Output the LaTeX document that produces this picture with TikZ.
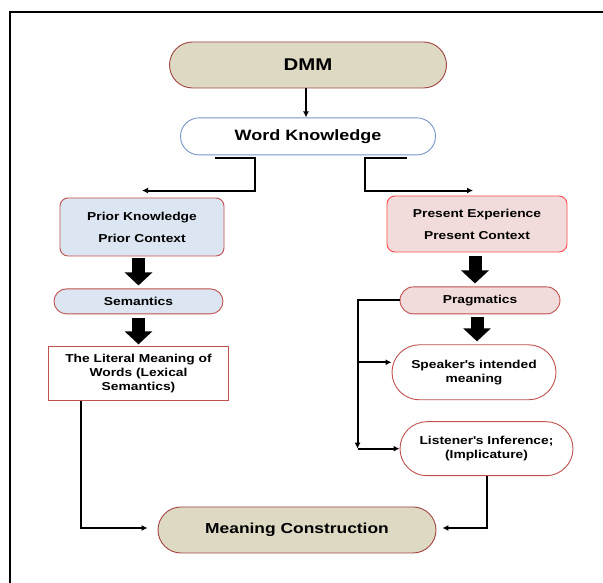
\documentclass[tikz,border=0pt]{standalone}
\usepackage{fontspec}
\setmainfont{Liberation Sans}[FakeStretch=1.2]
\usetikzlibrary{positioning,calc,shapes.misc,arrows.meta}
\definecolor{tanfill}{RGB}{221,217,195}
\definecolor{bluefill}{RGB}{220,230,242}
\definecolor{pinkfill}{RGB}{242,220,219}
\definecolor{redline}{RGB}{192,80,77}
\definecolor{blueline}{RGB}{120,150,200}
\newcommand{\midfont}{\bfseries\fontsize{11.5}{14}\selectfont}
\tikzstyle{link} = [
    -{Latex[length=6pt,width=6pt]},
    % draw=black,
    line width=2pt
]

\begin{document}
\begin{tikzpicture}[
        x=1pt, y=1pt,
        pill/.style n args={4}{
            rounded rectangle, draw=#1, fill=#2, line width=0.9pt,
            minimum width=#3, minimum height=#4,
            align=center, inner sep=2pt, font=\midfont
        },
        softbox/.style n args={4}{
            rectangle, rounded corners=8pt, draw=#1, fill=#2, line width=0.9pt,
            minimum width=#3, minimum height=#4,
            align=center, inner sep=2pt, font=\midfont
        },
        fatarrow/.style = {
            line width=13pt, -{Triangle[width=27pt,length=13pt]}
        }
    ]
        \useasboundingbox[fill=white] (0,0) rectangle (603,583);
        \draw[line width=2.5pt, line join=miter] (10,-5) -- (10,571) -- (610,571);

        \node[pill={redline!85!black}{tanfill}{281pt}{46pt}, font=\bfseries\fontsize{17}{20}\selectfont] (dmm) at (308,518) {DMM};
        \node[pill={blueline}{white}{259pt}{37pt}, font=\bfseries\fontsize{15}{18}\selectfont] (wk) [below=29pt of dmm] {Word Knowledge};

        \node[softbox={redline}{bluefill}{164pt}{58pt}] (prior) at (142,356) {Prior Knowledge\\[8pt] Prior Context};
        \node[pill={redline}{bluefill}{173pt}{25pt}] (sem) [below=32pt of prior, xshift=-3.5pt] {Semantics};
        \node[softbox={redline}{white}{180pt}{54pt}, rounded corners=0pt] (literal) [below=32pt of sem] {The Literal Meaning of\\ Words (Lexical\\ Semantics)};

        \node[softbox={red!70}{pinkfill}{180pt}{56pt}] (present) at (477,359) {Present Experience\\[8pt] Present Context};
        \node[pill={redline}{pinkfill}{164pt}{27pt}] (prag) [below=34pt of present, xshift=3pt] {Pragmatics};
        \node[pill={redline}{white}{168pt}{55pt}] (speaker) [below=30pt of prag, xshift=-6pt] {Speaker\textquotesingle s intended\\ meaning};
        \node[pill={redline}{white}{177pt}{54pt}] (listener) [below=21pt of speaker, xshift=12.5pt] {Listener\textquotesingle s Inference;\\ (Implicature)};

        \node[pill={redline!85!black}{tanfill}{282pt}{46pt}, font=\bfseries\fontsize{14.5}{17}\selectfont] (meaning) at (297,53) {Meaning Construction};

        \draw[link] ([xshift=-2pt]dmm.south) -- ([xshift=-2pt]wk.north);
        \draw[link] ([xshift=-93pt,yshift=-3pt]wk.south) -- ++(40,0) |- ([yshift=7pt]prior.north);
        \draw[link] ([xshift=99pt,yshift=-3pt]wk.south) -- ++(-42,0) |- ([xshift=-4pt,yshift=5pt]present.north);

        \draw[fatarrow, shorten <=2pt, shorten >=3pt] (sem.north |- prior.south) -- (sem.north);
        \draw[fatarrow, shorten <=4pt, shorten >=2pt] (sem.south) -- (sem.south |- literal.north);
        \draw[fatarrow, shorten <=4pt, shorten >=3pt] ([xshift=-2pt]present.south) -- ([xshift=-2pt]present.south |- prag.north);
        \draw[fatarrow, shorten <=3pt, shorten >=3pt] ([xshift=-3pt]prag.south) -- ([xshift=-3pt]prag.south |- speaker.north);

        \draw[link] (prag.west) -- ++(-42,0) coordinate (bend) -- (bend |- listener.west);
        \draw[link] (bend |- listener.west) -- (listener.west);
        \draw[link] ([yshift=10pt]speaker.west -| bend) -- ([yshift=10pt]speaker.west);

        \draw[link] ([xshift=33pt]literal.south west) |- ([xshift=-10pt,yshift=2pt]meaning.west);
        \draw[link] (listener.south) |- ([xshift=6pt,yshift=2pt]meaning.east);
    \end{tikzpicture}
\end{document}
